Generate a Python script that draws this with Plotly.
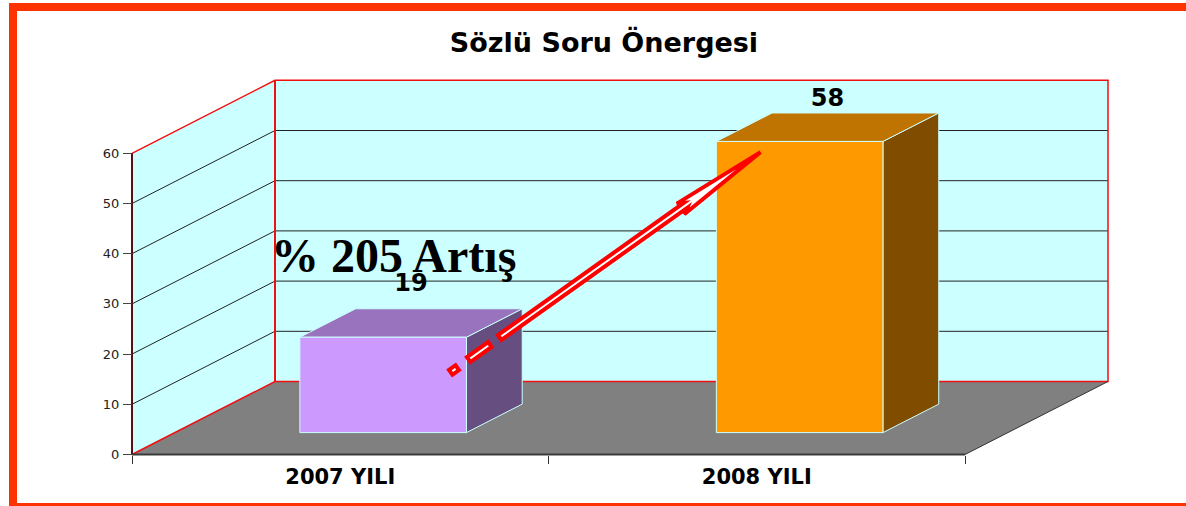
import plotly.graph_objects as go

# ---- data ----
categories = ["2007 YILI", "2008 YILI"]
values = [19, 58]
y_ticks = [0, 10, 20, 30, 40, 50, 60]
title_text = "Sözlü Soru Önergesi"
note_text = "% 205 Artış"
face_colors = ["#CC99FF", "#FF9900"]
top_colors = ["#9A73BF", "#BF7300"]
side_colors = ["#664F80", "#804D00"]
label_lift_px = [38, 27.5]

# ---- layout geometry ----
W, H = 1186, 506
X0, Y0 = 132.0, 454.5      # pixel of plot origin
SLOT = 416.5               # px per category
UNIT = 5.02                # px per value unit
DX, DY = 143.0, 73.0       # oblique depth offset in px
BAR_HALF = 0.2             # in category units
D_FRONT, D_BACK = 0.30, 0.69
YMAX = 60
XMIN, XMAX = -0.5, 1.5

def P(x, y, d=0.0):
    """Oblique projection into axis data coordinates."""
    return x + d * DX / SLOT, y + d * DY / UNIT

def poly(points, fill, line="rgba(0,0,0,0)", width=0, layer_closed=True):
    pts = [P(*p) for p in points]
    xs = [p[0] for p in pts]
    ys = [p[1] for p in pts]
    if layer_closed:
        xs.append(xs[0]); ys.append(ys[0])
    return go.Scatter(x=xs, y=ys, mode="lines", fill="toself" if fill else None,
                      fillcolor=fill, line=dict(color=line, width=width),
                      hoverinfo="skip", showlegend=False)

def seg(points, color, width):
    return poly(points, None, color, width, layer_closed=False)

fig = go.Figure()
# walls and floor
fig.add_trace(poly([(XMIN, 0, 1), (XMAX, 0, 1), (XMAX, YMAX, 1), (XMIN, YMAX, 1)], "#CCFFFF"))
fig.add_trace(poly([(XMIN, 0, 0), (XMIN, 0, 1), (XMIN, YMAX, 1), (XMIN, YMAX, 0)], "#CCFFFF"))
fig.add_trace(poly([(XMIN, 0, 0), (XMAX, 0, 0), (XMAX, 0, 1), (XMIN, 0, 1)], "#808080"))
# gridlines
for t in y_ticks[1:-1]:
    fig.add_trace(seg([(XMIN, t, 0), (XMIN, t, 1), (XMAX, t, 1)], "#222222", 1))
# wall outlines
fig.add_trace(seg([(XMIN, 0, 0), (XMIN, 0, 1), (XMAX, 0, 1), (XMAX, YMAX, 1), (XMIN, YMAX, 1), (XMIN, YMAX, 0)], "#F01010", 1.5))
fig.add_trace(seg([(XMIN, 0, 1), (XMIN, YMAX, 1)], "#F01010", 2))
# front edges
fig.add_trace(seg([(XMIN, 0, 0), (XMIN, YMAX, 0)], "#5A1010", 2))
fig.add_trace(seg([(XMIN, 0, 0), (XMAX, 0, 0)], "#3A3A3A", 2))
fig.add_trace(seg([(XMAX, 0, 0), (XMAX, 0, 1)], "#333333", 1))

# bars
edge = "#CCFFFF"
for i, v in enumerate(values):
    l, r = i - BAR_HALF, i + BAR_HALF
    fig.add_trace(poly([(r, 0, D_FRONT), (r, 0, D_BACK), (r, v, D_BACK), (r, v, D_FRONT)], side_colors[i], edge, 1))
    fig.add_trace(poly([(l, v, D_FRONT), (r, v, D_FRONT), (r, v, D_BACK), (l, v, D_BACK)], top_colors[i], edge, 1))
    fig.add_trace(poly([(l, 0, D_FRONT), (r, 0, D_FRONT), (r, v, D_FRONT), (l, v, D_FRONT)], face_colors[i], edge, 1))

# value labels
D_LABEL = 0.495
lx, ly = zip(*[P(i, v + label_lift_px[i] / UNIT, D_LABEL) for i, v in enumerate(values)])
fig.add_trace(go.Scatter(x=list(lx), y=list(ly), mode="text", text=[str(v) for v in values],
                         textposition="middle center", cliponaxis=False, hoverinfo="skip", showlegend=False,
                         textfont=dict(family="DejaVu Sans", size=24, color="#000000", weight="bold")))

# ---- decoration: page frame and arrow drawn in page fractions ----
def fx(p): return p / W
def fy(p): return 1 - p / H

shapes = []
FRAME = "#FF3300"
for x0, y0, x1, y1 in [(9, 3, W, 11), (9, 3, 17, H), (9, 503, W, H)]:
    shapes.append(dict(type="rect", xref="paper", yref="paper", x0=fx(x0), x1=fx(x1), y0=fy(y0), y1=fy(y1),
                       fillcolor=FRAME, line_width=0, layer="above"))

tail = (454.0, 370.0)
tip = (762.0, 151.0)
L = ((tip[0]-tail[0])**2 + (tip[1]-tail[1])**2) ** 0.5
ux, uy = (tip[0]-tail[0]) / L, (tip[1]-tail[1]) / L
nx, ny = -uy, ux
def A(t, w):
    return tail[0] + ux*t + nx*w, tail[1] + uy*t + ny*w
def path(pts):
    return "M " + " L ".join(f"{fx(a):.5f},{fy(b):.5f}" for a, b in pts) + " Z"
arrow_polys = [
    [A(-4, -3), A(4, -3), A(4, 3), A(-4, 3)],
    [A(18, -3), A(44, -3), A(44, 3), A(18, 3)],
    [A(56, -3), A(284, -3), A(278, -6.5), A(376, 0), A(278, 6.5), A(284, 3), A(56, 3)],
]
for pts in arrow_polys:
    shapes.append(dict(type="path", xref="paper", yref="paper", path=path(pts),
                       fillcolor="#FFFFFF", line=dict(color="#FF0000", width=4), layer="above"))

fig.update_layout(
    width=W, height=H, autosize=False,
    margin=dict(l=0, r=0, t=0, b=0),
    paper_bgcolor="#FFFFFF", plot_bgcolor="#FFFFFF",
    showlegend=False,
    title=dict(text=f"<b>{title_text}</b>", x=604/W, y=1-43/H, xanchor="center", yanchor="middle", xref="paper", yref="paper",
               font=dict(family="DejaVu Sans", size=27, color="#000000")),
    xaxis=dict(range=[(0-X0)/SLOT-0.5, (W-X0)/SLOT-0.5], tickmode="array", tickvals=[0, 1], ticktext=categories,
               ticks="", showgrid=False, zeroline=False, showline=False, anchor="free",
               position=(H-Y0)/H, ticklabelstandoff=7,
               tickfont=dict(family="DejaVu Sans", size=21, color="#000000", weight="bold"),
               minor=dict(tickmode="array", tickvals=[-0.5, 0.5, 1.5], ticks="outside", ticklen=8, tickwidth=1, tickcolor="#333333", showgrid=False)),
    yaxis=dict(range=[(Y0-H)/UNIT, Y0/UNIT], tickmode="array", tickvals=y_ticks, ticks="outside", ticklen=9,
               tickwidth=1, tickcolor="#444444", showgrid=False, zeroline=False, showline=False,
               anchor="free", position=X0/W, ticklabelstandoff=1,
               tickfont=dict(family="DejaVu Sans", size=13, color="#222222")),
    shapes=shapes,
    annotations=[dict(text=f"<b>{note_text}</b>", xref="paper", yref="paper", x=393.5/W, y=1-255/H,
                      xanchor="center", yanchor="middle", showarrow=False,
                      font=dict(family="Liberation Serif", size=48, color="#000000"))],
)
fig.write_html("out.html", config={"displayModeBar": False},
               post_script="document.body.style.margin='0';document.body.style.overflow='hidden';")
